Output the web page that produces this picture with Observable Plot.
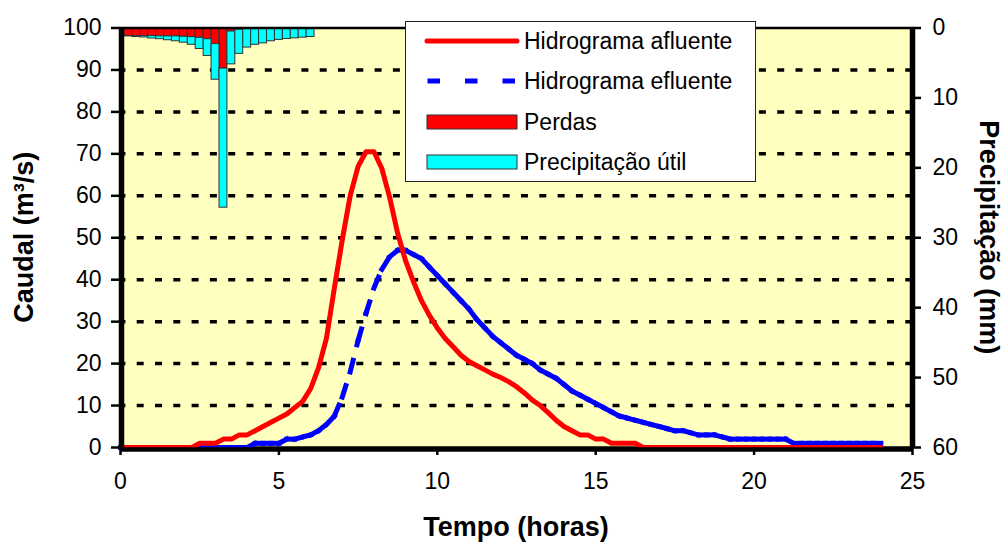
<!DOCTYPE html>
<html><head><meta charset="utf-8">
<script src="https://cdn.jsdelivr.net/npm/d3@7"></script>
<script src="https://cdn.jsdelivr.net/npm/@observablehq/plot@0.6"></script>
<style>
html,body{margin:0;padding:0;background:#fff;}
#chart{width:1003px;height:543px;}
</style></head><body><div id="chart"></div>
<script>
// Time axis (hours) for the hydrographs
const tempo = [0,0.25,0.5,0.75,1,1.25,1.5,1.75,2,2.25,2.5,2.75,3,3.25,3.5,3.75,4,4.25,4.5,4.75,5,5.25,5.5,5.75,6,6.25,6.5,6.75,7,7.25,7.5,7.75,8,8.25,8.5,8.75,9,9.25,9.5,9.75,10,10.25,10.5,10.75,11,11.25,11.5,11.75,12,12.25,12.5,12.75,13,13.25,13.5,13.75,14,14.25,14.5,14.75,15,15.25,15.5,15.75,16,16.25,16.5,16.75,17,17.25,17.5,17.75,18,18.25,18.5,18.75,19,19.25,19.5,19.75,20,20.25,20.5,20.75,21,21.25,21.5,21.75,22,22.25,22.5,22.75,23,23.25,23.5,23.75,24];
// Hidrograma afluente (m3/s)
const afluente = [0,0,0,0,0,0,0,0,0,0,
  1,1,1,2,2,3,3,4,5,6,
  7,8,9.5,11,14,19,26,38,49.5,60,
  67,70.5,70.5,66.5,59.5,51,44.5,39.5,35,31.5,
  28.5,26,24,22,20.5,19.5,18.5,17.5,16.7,15.7,
  14.5,13,11.3,10,8.3,6.5,5,4,3,3,
  2,2,1,1,1,1,0,0,0,0,
  0,0,0,0,0,0,0,0,0,0,0,0,0,0,0,0,0,0,0,0,0,0,0,0,0,0,0];
// Hidrograma efluente (m3/s)
const efluente = [0,0,0,0,0,0,0,0,0,0,
  0,0,0,0,0,0,0,1,1,1,
  1,2,2,2.5,3,4,5.5,7.5,12,18,
  25.5,32,38,42.5,45.5,47,47,46,45,43,
  41,39,37,35,33,30.5,28.5,26.5,25,23.5,
  22,21,20,18.5,17.5,16.5,15,13.5,12.5,11.5,
  10.5,9.5,8.5,7.5,7,6.5,6,5.5,5,4.5,
  4,4,3.5,3,3,3,2.5,2,2,2,
  2,2,2,2,2,1,1,1,1,1,
  1,1,1,1,1,1,1];
// Precipitation bars (mm), centred on these times (h)
const tempoChuva = [0.25,0.5,0.75,1,1.25,1.5,1.75,2,2.25,2.5,2.75,3,3.25,3.5,3.75,4,4.25,4.5,4.75,5,5.25,5.5,5.75,6];
const perdas = [1.15,1.15,1.15,1.15,1.2,1.2,1.2,1.25,1.3,1.4,1.6,2.3,5.8,0.5,0.25,0.15,0.1,0.1,0.1,0.1,0,0,0,0];
const precipUtil = [0.05,0.15,0.2,0.35,0.4,0.55,0.7,0.85,1.1,1.6,2.4,5.1,19.9,4.7,3.45,2.65,2.3,2.1,1.8,1.6,1.57,1.48,1.38,1.29];
// Axis ticks
const caudalTicks = [0,10,20,30,40,50,60,70,80,90,100];
const gridTicks = [10,20,30,40,50,60,70,80,90];
const tempoTicks = [0,5,10,15,20,25];
const precipTicks = [0,10,20,30,40,50,60];
const legendLabels = ["Hidrograma afluente","Hidrograma efluente","Perdas","Precipitação útil"];

const PMAX = 60, QMAX = 100;
const toQ = mm => QMAX - mm * QMAX / PMAX;   // precipitation (inverted, right axis) -> caudal scale
const halfBar = 0.125;

const linhaA = tempo.map((t, i) => ({t, q: afluente[i]}));
const segsE = tempo.slice(1).map((t, i) => ({t1: tempo[i], q1: efluente[i], t2: t, q2: efluente[i + 1]}));
const chuva = tempoChuva.map((t, i) => ({t, p: perdas[i], u: precipUtil[i]}));

const FONT = "'Liberation Sans', Arial, Helvetica, sans-serif";

const plot = Plot.plot({
  width: 1003, height: 543,
  marginLeft: 120, marginRight: 91, marginTop: 27.5, marginBottom: 96,
  style: {fontFamily: FONT, fontSize: "23px", color: "black", background: "white", overflow: "visible"},
  x: {domain: [0, 25]},
  y: {domain: [0, 100]},
  marks: [
    Plot.frame({fill: "#FFFFC0"}),
    Plot.ruleY(gridTicks, {stroke: "black", strokeWidth: 3.5, strokeDasharray: "7,11.3", strokeDashoffset: 1.6}),
    Plot.rect(chuva, {x1: d => d.t - halfBar, x2: d => d.t + halfBar, y1: () => toQ(0), y2: d => toQ(d.p),
      fill: "#FF0000", stroke: "#333", strokeWidth: 1}),
    Plot.rect(chuva, {x1: d => d.t - halfBar, x2: d => d.t + halfBar, y1: d => toQ(d.p), y2: d => toQ(d.p + d.u),
      fill: "#00FFFF", stroke: "#333", strokeWidth: 1}),
    Plot.frame({stroke: "black", strokeWidth: 2.5}),
    Plot.link(segsE, {x1: "t1", y1: "q1", x2: "t2", y2: "q2", stroke: "#0000FF", strokeWidth: 5,
      strokeDasharray: "12,16", strokeLinecap: "square"}),
    Plot.line(linhaA, {x: "t", y: "q", stroke: "#FF0000", strokeWidth: 5, strokeLinejoin: "round"}),
    Plot.ruleX([0], {stroke: "black", strokeWidth: 5.5, dx: 1}),
    Plot.ruleX([25], {stroke: "black", strokeWidth: 5.5}),
    Plot.ruleY([0], {stroke: "black", strokeWidth: 4.5, dy: 2}),
    Plot.axisY(caudalTicks, {anchor: "left", tickSize: 9, tickPadding: 10, strokeWidth: 2.5, label: null}),
    Plot.axisX(tempoTicks, {anchor: "bottom", tickSize: 8, tickPadding: 17, strokeWidth: 2.5, label: null}),
    Plot.axisY(precipTicks.map(toQ), {anchor: "right", tickSize: 8, tickPadding: 12, strokeWidth: 2.5, label: null,
      tickFormat: v => String(Math.round((QMAX - v) * PMAX / QMAX))})
  ]
});
document.getElementById("chart").appendChild(plot);

// Axis titles and legend
const sx = plot.scale("x"), sy = plot.scale("y");
const svg = d3.select(plot);
const titles = svg.append("g").attr("font-family", FONT).attr("font-weight", "bold").attr("font-size", 27).attr("fill", "black").attr("text-anchor", "middle");
titles.append("text").attr("x", (sx.apply(0) + sx.apply(25)) / 2).attr("y", 536).text("Tempo (horas)");
titles.append("text").attr("transform", `translate(33,${(sy.apply(0) + sy.apply(100)) / 2}) rotate(-90)`).text("Caudal (m³/s)");
titles.append("text").attr("transform", `translate(980,${(sy.apply(0) + sy.apply(100)) / 2}) rotate(90)`).text("Precipitação (mm)");

const lg = svg.append("g").attr("font-family", FONT).attr("font-size", 23).attr("fill", "black").attr("text-anchor", "start");
lg.append("rect").attr("x", 405.5).attr("y", 21.5).attr("width", 350).attr("height", 160).attr("fill", "white").attr("stroke", "#222").attr("stroke-width", 1);
const rowY = [41, 81, 122, 162];
lg.append("line").attr("x1", 427).attr("x2", 517).attr("y1", rowY[0]).attr("y2", rowY[0]).attr("stroke", "#FF0000").attr("stroke-width", 5).attr("stroke-linecap", "round");
lg.append("line").attr("x1", 427.5).attr("x2", 518).attr("y1", rowY[1]).attr("y2", rowY[1]).attr("stroke", "#0000FF").attr("stroke-width", 5).attr("stroke-dasharray", "12.5,25");
lg.append("rect").attr("x", 427).attr("y", rowY[2] - 7).attr("width", 90).attr("height", 14).attr("fill", "#FF0000").attr("stroke", "#333").attr("stroke-width", 1);
lg.append("rect").attr("x", 427).attr("y", rowY[3] - 7).attr("width", 90).attr("height", 14).attr("fill", "#00FFFF").attr("stroke", "#333").attr("stroke-width", 1);
legendLabels.forEach((s, i) => {
  lg.append("text").attr("x", 524).attr("y", rowY[i] + 8).text(s);
});
</script>
</body></html>
